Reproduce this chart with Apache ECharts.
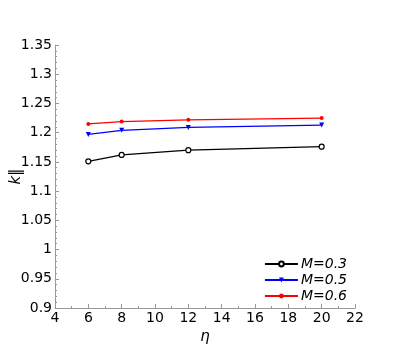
<!DOCTYPE html>
<html>
<head>
<meta charset="utf-8">
<script src="https://cdn.jsdelivr.net/npm/echarts@6/dist/echarts.min.js"></script>
<style>
  html, body { margin: 0; padding: 0; background: #fff; }
  #chart { width: 407px; height: 353px; }
</style>
</head>
<body>
<div id="chart"></div>
<script>
// eta values on x axis
var etaValues = [6, 8, 12, 20];
var seriesNames = ['M=0.3', 'M=0.5', 'M=0.6'];
var kM03 = [1.151, 1.162, 1.170, 1.176];
var kM05 = [1.197, 1.204, 1.209, 1.213];
var kM06 = [1.215, 1.219, 1.222, 1.225];

function pairs(xs, ys) {
    var out = [];
    for (var i = 0; i < xs.length; i++) out.push([xs[i], ys[i]]);
    return out;
}

var axisGray = '#999999';
var font = 'DejaVu Sans';

var chart = echarts.init(document.getElementById('chart'));
chart.setOption({
    animation: false,
    backgroundColor: '#fff',
    grid: { left: 55, right: 52, top: 45, bottom: 45, containLabel: false, outerBoundsMode: 'none' },
    legend: {
        right: 55, bottom: 45,
        orient: 'vertical',
        itemWidth: 33, itemHeight: 6, itemGap: 2,
        textStyle: { fontFamily: font, fontStyle: 'italic', fontSize: 14, color: '#000', padding: [0, 0, 0, -2] },
        data: seriesNames
    },
    xAxis: {
        type: 'value', min: 4, max: 22, interval: 2,
        name: 'η', nameLocation: 'middle', nameGap: 22, nameMoveOverlap: false,
        nameTextStyle: { fontFamily: font, fontStyle: 'italic', fontSize: 15, color: '#000' },
        axisLine: { lineStyle: { color: axisGray } },
        axisTick: { inside: true, length: 4, lineStyle: { color: axisGray } },
        minorTick: { show: true, splitNumber: 2, length: 2, lineStyle: { color: axisGray } },
        axisLabel: { fontFamily: font, fontSize: 14, color: '#000', margin: 3 },
        splitLine: { show: false }
    },
    yAxis: {
        type: 'value', min: 0.9, max: 1.35, interval: 0.05,
        name: 'k‖', nameLocation: 'middle', nameGap: 31, nameRotate: 90, nameMoveOverlap: false,
        nameTextStyle: { fontFamily: font, fontStyle: 'italic', fontSize: 15, color: '#000' },
        axisLine: { lineStyle: { color: axisGray } },
        axisTick: { inside: true, length: 4, lineStyle: { color: axisGray } },
        minorTick: { show: true, splitNumber: 5, length: 2, lineStyle: { color: axisGray } },
        axisLabel: { fontFamily: font, fontSize: 14, color: '#000', margin: 3,
            formatter: function (v) { return String(parseFloat(v.toFixed(2))); } },
        splitLine: { show: false }
    },
    series: [
        {
            name: seriesNames[0], type: 'line', data: pairs(etaValues, kM03),
            symbol: 'circle', symbolSize: 5,
            itemStyle: { color: '#fff', borderColor: '#000', borderWidth: 1.2 },
            lineStyle: { color: '#000', width: 1.2 }
        },
        {
            name: seriesNames[1], type: 'line', data: pairs(etaValues, kM05),
            symbol: 'triangle', symbolRotate: 180, symbolSize: 5,
            itemStyle: { color: '#0000ff' },
            lineStyle: { color: '#0000ff', width: 1.2 }
        },
        {
            name: seriesNames[2], type: 'line', data: pairs(etaValues, kM06),
            symbol: 'circle', symbolSize: 4,
            itemStyle: { color: '#ff0000' },
            lineStyle: { color: '#ff0000', width: 1.2 }
        }
    ]
});
</script>
</body>
</html>
